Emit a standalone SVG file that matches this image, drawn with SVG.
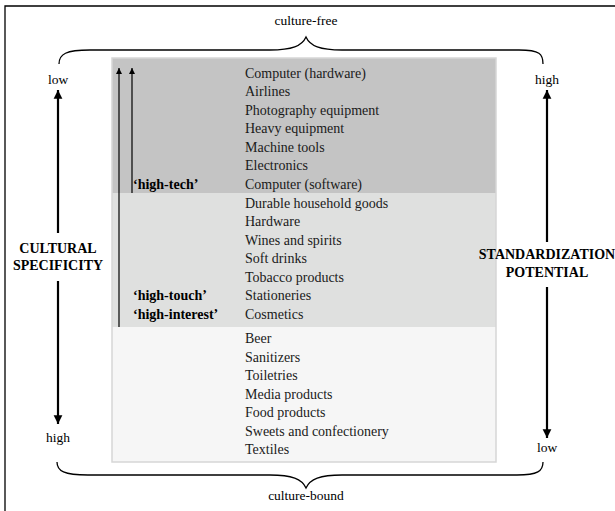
<svg xmlns="http://www.w3.org/2000/svg" width="615" height="511" viewBox="0 0 615 511">
<style>
.item{font-family:"Liberation Serif","Times New Roman",serif;font-size:14px;fill:#1a1a1a}
.lbl{font-family:"Liberation Serif","Times New Roman",serif;font-size:14px;font-weight:bold;fill:#000}
.ax{font-family:"Liberation Serif","Times New Roman",serif;font-size:13.5px;fill:#000}
.axline{stroke:#000;stroke-width:2.2;fill:none}
.thin{stroke:#000;stroke-width:1.2;fill:none}
.brace{stroke:#000;stroke-width:1.3;fill:none}
</style>
<defs>
<marker id="big" viewBox="0 0 10 10" refX="10" refY="5" markerWidth="4" markerHeight="4.2" markerUnits="strokeWidth" orient="auto">
<path d="M0,0 L10,5 L0,10 Z" fill="#000"/>
</marker>
<marker id="small" viewBox="0 0 10 10" refX="10" refY="5" markerWidth="6" markerHeight="5" markerUnits="strokeWidth" orient="auto">
<path d="M0,0 L10,5 L0,10 Z" fill="#000"/>
</marker>
</defs>
<rect width="615" height="511" fill="#fff"/>
<path d="M5,511 V6 H615" stroke="#000" stroke-width="1.3" fill="none"/>

<g id="box">
<rect x="112" y="58" width="384" height="135" fill="#c4c4c4"/>
<rect x="112" y="193" width="384" height="134" fill="#dfe0df"/>
<rect x="112" y="327" width="384" height="135" fill="#f6f6f6"/>
<rect x="112" y="58" width="384" height="404" fill="none" stroke="#d6d6d6" stroke-width="1.5"/>
</g>

<g id="group-high-tech">
<text class="item" x="245" y="77.5">Computer (hardware)</text>
<text class="item" x="245" y="96">Airlines</text>
<text class="item" x="245" y="114.5">Photography equipment</text>
<text class="item" x="245" y="133">Heavy equipment</text>
<text class="item" x="245" y="151.5">Machine tools</text>
<text class="item" x="245" y="170">Electronics</text>
<text class="item" x="245" y="188.5">Computer (software)</text>
<text class="lbl" x="133" y="188.5">‘high-tech’</text>
</g>

<g id="group-high-touch">
<text class="item" x="245" y="207.5">Durable household goods</text>
<text class="item" x="245" y="226">Hardware</text>
<text class="item" x="245" y="244.5">Wines and spirits</text>
<text class="item" x="245" y="263">Soft drinks</text>
<text class="item" x="245" y="281.5">Tobacco products</text>
<text class="item" x="245" y="300">Stationeries</text>
<text class="item" x="245" y="318.5">Cosmetics</text>
<text class="lbl" x="133" y="300">‘high-touch’</text>
<text class="lbl" x="133" y="318.5">‘high-interest’</text>
</g>

<g id="group-culture-bound">
<text class="item" x="245" y="343">Beer</text>
<text class="item" x="245" y="361.5">Sanitizers</text>
<text class="item" x="245" y="380">Toiletries</text>
<text class="item" x="245" y="398.5">Media products</text>
<text class="item" x="245" y="417">Food products</text>
<text class="item" x="245" y="435.5">Sweets and confectionery</text>
<text class="item" x="245" y="454">Textiles</text>
</g>

<g id="left-axis">
<text class="ax" x="58" y="84" text-anchor="middle">low</text>
<text class="lbl" x="58" y="253" text-anchor="middle">CULTURAL</text>
<text class="lbl" x="58" y="270" text-anchor="middle">SPECIFICITY</text>
<text class="ax" x="58" y="442" text-anchor="middle">high</text>
</g>

<g id="right-axis">
<text class="ax" x="547" y="84" text-anchor="middle">high</text>
<text class="lbl" x="547" y="259" text-anchor="middle">STANDARDIZATION</text>
<text class="lbl" x="547" y="277" text-anchor="middle">POTENTIAL</text>
<text class="ax" x="547" y="452" text-anchor="middle">low</text>
</g>

<g id="braces">
<text class="ax" x="306" y="25" text-anchor="middle">culture-free</text>
<path class="brace" d="M59,64 C59,54 66,50 90,50 H270 C292,50 302,46 306,37 C310,46 320,50 342,50 H519 C540,50 543,54 543,64"/>
<path class="brace" d="M57,462 C57,471 64,475 88,475 H270 C292,475 302,479 306,488 C310,479 320,475 342,475 H517 C538,475 543,471 543,462"/>
<text class="ax" x="306" y="500" text-anchor="middle">culture-bound</text>
</g>

<g id="connectors">
<line class="axline" x1="58" y1="233" x2="58" y2="90" marker-end="url(#big)"/>
<line class="axline" x1="58" y1="281" x2="58" y2="424" marker-end="url(#big)"/>
<line class="axline" x1="547" y1="242" x2="547" y2="90" marker-end="url(#big)"/>
<line class="axline" x1="547" y1="287" x2="547" y2="438" marker-end="url(#big)"/>
<line class="thin" x1="119" y1="327" x2="119" y2="68" marker-end="url(#small)"/>
<line class="thin" x1="132" y1="193" x2="132" y2="68" marker-end="url(#small)"/>
</g>
</svg>
